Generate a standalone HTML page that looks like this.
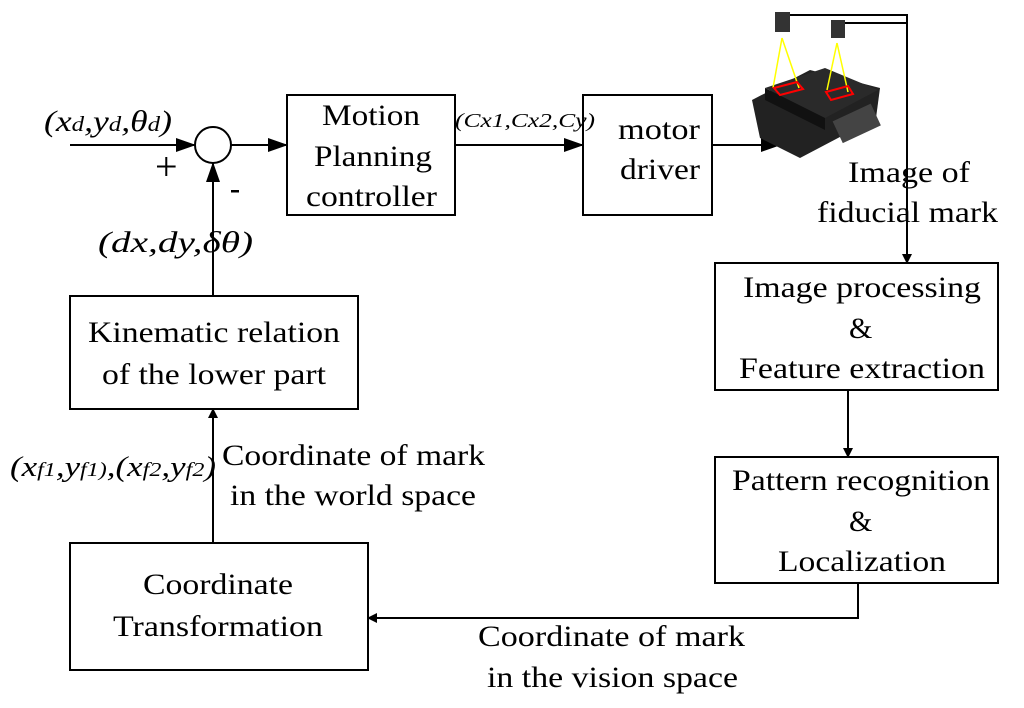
<!DOCTYPE html>
<html><head><style>
body{margin:0;background:#fff}
svg text{font-family:"Liberation Serif",serif;fill:#000}
</style></head><body>
<svg width="1024" height="703" viewBox="0 0 1024 703" xmlns="http://www.w3.org/2000/svg">
<defs><marker id="a" markerWidth="10" markerHeight="10" refX="9" refY="5" orient="auto" markerUnits="userSpaceOnUse"><path d="M0,0 L10,5 L0,10 Z" fill="#000"/></marker>
<marker id="b" markerWidth="20" markerHeight="14" refX="19" refY="7" orient="auto" markerUnits="userSpaceOnUse"><path d="M0,0 L20,7 L0,14 Z" fill="#000"/></marker></defs>
<g stroke="#000" stroke-width="2" fill="none">
<circle cx="213" cy="145" r="18"/>
<rect x="287" y="95" width="168" height="120"/>
<rect x="583" y="95" width="129" height="120"/>
<rect x="715" y="263" width="283" height="127"/>
<rect x="715" y="457" width="283" height="126"/>
<rect x="70" y="543" width="298" height="127"/>
<rect x="70" y="296" width="288" height="113"/>
<line x1="70" y1="145" x2="195" y2="145" marker-end="url(#b)"/>
<line x1="231" y1="145" x2="287" y2="145" marker-end="url(#b)"/>
<line x1="455" y1="145" x2="583" y2="145" marker-end="url(#b)"/>
<line x1="712" y1="145" x2="780" y2="145" marker-end="url(#b)"/>
<polyline points="790,15 907,15 907,263" marker-end="url(#a)"/>
<line x1="845" y1="23" x2="907" y2="23"/>
<line x1="848" y1="390" x2="848" y2="457" marker-end="url(#a)"/>
<polyline points="858,583 858,618 368,618" marker-end="url(#a)"/>
<line x1="213" y1="543" x2="213" y2="409" marker-end="url(#a)"/>
<line x1="213" y1="296" x2="213" y2="163" marker-end="url(#b)"/>
</g>
<g>
<polygon points="752,100 810,70 880,88 876,118 800,158 760,138" fill="#222"/>
<polygon points="765,88 825,68 878,90 825,118" fill="#2a2a2a"/>
<polygon points="765,88 825,118 825,130 765,100" fill="#111"/>
<rect x="835" y="112" width="42" height="24" fill="#444" transform="rotate(-25 855 122)"/>
<rect x="775" y="12" width="15" height="20" fill="#333"/><rect x="831" y="20" width="14" height="18" fill="#333"/>
<g stroke="#ff0" stroke-width="1.5"><line x1="782" y1="38" x2="773" y2="88"/><line x1="782" y1="38" x2="799" y2="88"/><line x1="837" y1="43" x2="827" y2="90"/><line x1="837" y1="43" x2="848" y2="92"/></g>
<g stroke="#f00" stroke-width="2" fill="none"><polygon points="774,88 797,82 803,89 780,95"/><polygon points="826,92 848,86 853,94 831,100"/></g>
</g>
<g font-size="30" lengthAdjust="spacingAndGlyphs">
<text x="322" y="125" textLength="98" lengthAdjust="spacingAndGlyphs">Motion</text>
<text x="314" y="166" textLength="118" lengthAdjust="spacingAndGlyphs">Planning</text>
<text x="306" y="206" textLength="131" lengthAdjust="spacingAndGlyphs">controller</text>
<text x="618" y="139" textLength="82" lengthAdjust="spacingAndGlyphs">motor</text>
<text x="620" y="179" textLength="80" lengthAdjust="spacingAndGlyphs">driver</text>
<text x="848" y="182" textLength="122" lengthAdjust="spacingAndGlyphs">Image of</text>
<text x="817" y="222" textLength="181" lengthAdjust="spacingAndGlyphs">fiducial mark</text>
<text x="743" y="297" textLength="238" lengthAdjust="spacingAndGlyphs">Image processing</text>
<text x="849" y="338">&amp;</text>
<text x="739" y="378" textLength="246" lengthAdjust="spacingAndGlyphs">Feature extraction</text>
<text x="732" y="490" textLength="258" lengthAdjust="spacingAndGlyphs">Pattern recognition</text>
<text x="849" y="531">&amp;</text>
<text x="778" y="571" textLength="168" lengthAdjust="spacingAndGlyphs">Localization</text>
<text x="143" y="594" textLength="150" lengthAdjust="spacingAndGlyphs">Coordinate</text>
<text x="113" y="636" textLength="210" lengthAdjust="spacingAndGlyphs">Transformation</text>
<text x="88" y="342" textLength="252" lengthAdjust="spacingAndGlyphs">Kinematic relation</text>
<text x="102" y="384" textLength="224" lengthAdjust="spacingAndGlyphs">of the lower part</text>
<text x="222" y="465" textLength="263" lengthAdjust="spacingAndGlyphs">Coordinate of mark</text>
<text x="230" y="505" textLength="246" lengthAdjust="spacingAndGlyphs">in the world space</text>
<text x="478" y="646" textLength="267" lengthAdjust="spacingAndGlyphs">Coordinate of mark</text>
<text x="487" y="687" textLength="251" lengthAdjust="spacingAndGlyphs">in the vision space</text>
</g>
<g font-style="italic">
<text x="44" y="131" font-size="30" textLength="128" lengthAdjust="spacingAndGlyphs">(x<tspan font-size="21">d</tspan>,y<tspan font-size="21">d</tspan>,θ<tspan font-size="21">d</tspan>)</text>
<text x="455" y="127" font-size="20" textLength="140" lengthAdjust="spacingAndGlyphs">(Cx1,Cx2,Cy)</text>
<text x="98" y="252" font-size="30" textLength="155" lengthAdjust="spacingAndGlyphs">(dx,dy,δθ)</text>
<text x="10" y="476" font-size="29" textLength="206" lengthAdjust="spacingAndGlyphs">(x<tspan font-size="20">f1</tspan>,y<tspan font-size="20">f1)</tspan>,(x<tspan font-size="20">f2</tspan>,y<tspan font-size="20">f2</tspan>)</text>
</g>
<text x="155" y="180" font-size="40" font-family="Liberation Serif">+</text>
<rect x="231" y="190" width="8" height="2.5" fill="#000"/>
</svg>
</body></html>
